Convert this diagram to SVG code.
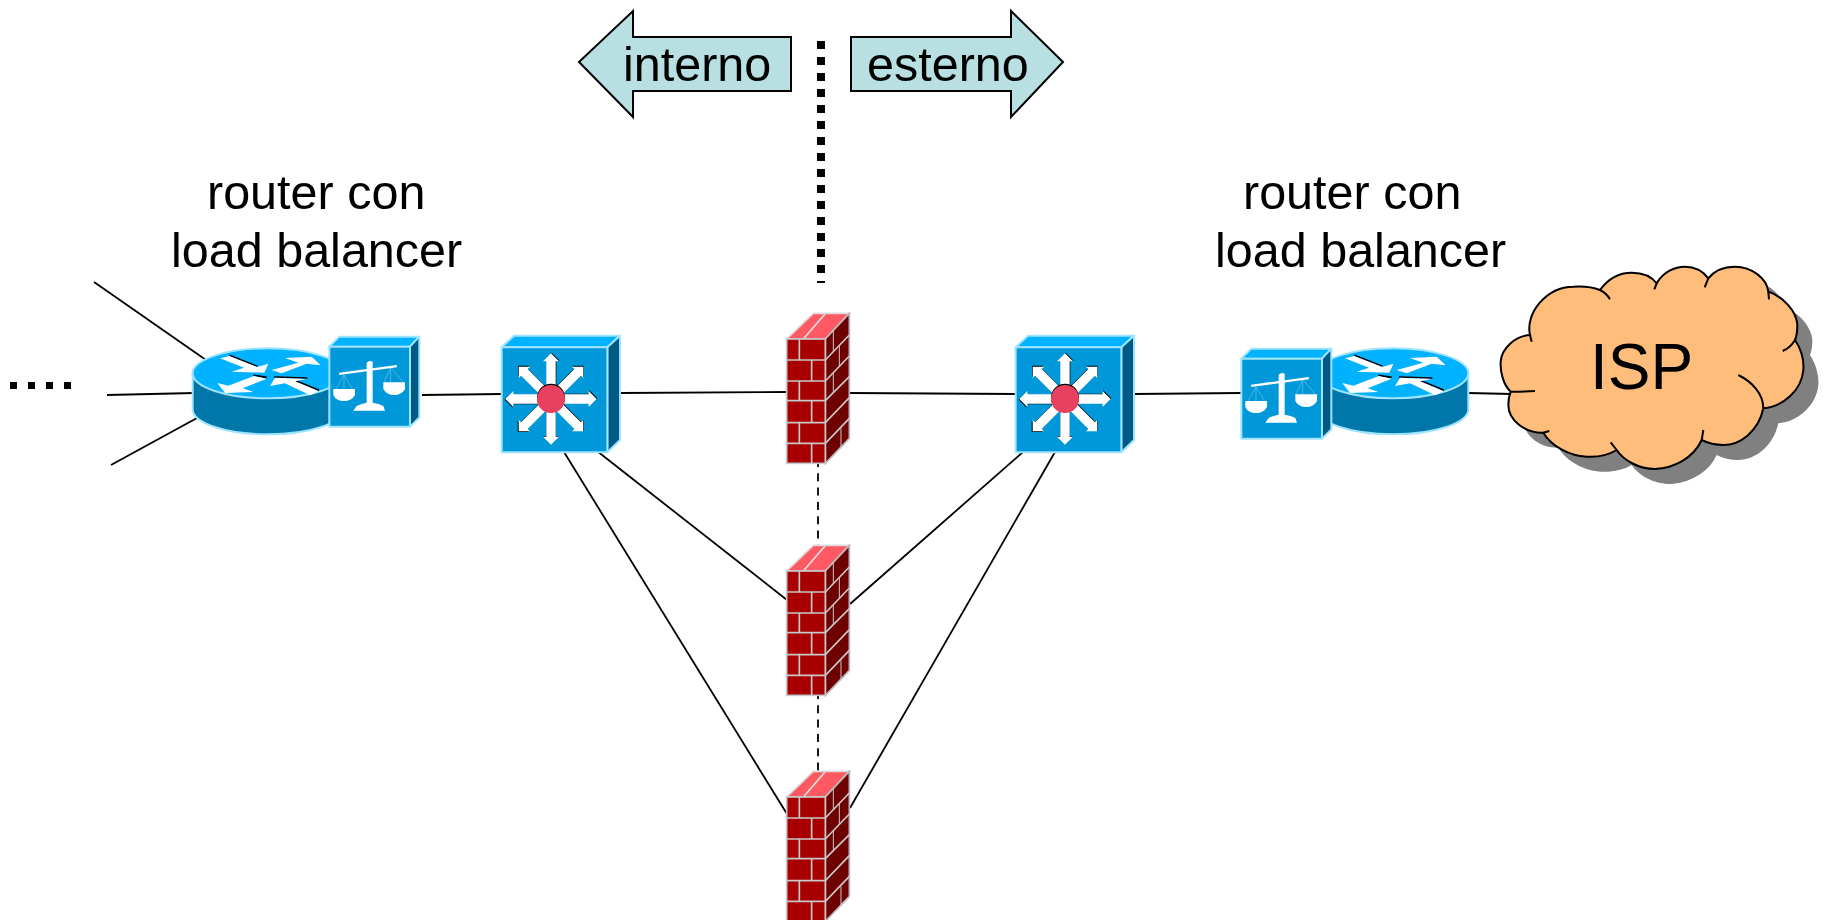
<svg xmlns="http://www.w3.org/2000/svg" xmlns:xlink="http://www.w3.org/1999/xlink" width="1824" height="920" viewBox="0 0 1824 920">
<style>
text{font-family:"Liberation Sans",Arial,sans-serif;fill:#000}
.l{font-size:48.500px}
.c{stroke:#000;stroke-width:1.8;fill:none}
.w{fill:#fff}
.k{fill:#000}
.e{stroke:#9fe4ff;stroke-width:6;stroke-linejoin:round}
.ft{fill:#00b2ff}.ff{fill:#0098d8}.fs{fill:#005a84}
.m{stroke:#c8c8c8;stroke-width:5;fill:none}
.arr{fill:#b8e0e2;stroke:#000;stroke-width:2}
</style>
<defs>
<g id="routerShape">
<path d="M68 160V268A226 75 0 0 0 520 268V160Z" fill="#0077a8" stroke="#9fe4ff" stroke-width="6"/>
<ellipse cx="294" cy="160" rx="226" ry="75" class="ft e"/>
<path d="M178 106L262 139M250 166L290 172M312 171L412 174M378 182L447 211" stroke="#000" stroke-width="5" fill="none"/>
<path class="w" d="M150 115L178 108L262 141L295 131L283 158L185 155L222 143Z"/>
<path class="w" d="M305 150L385 128L345 114L425 110L452 136L410 131L335 160Z"/>
<path class="w" d="M290 176L252 168L175 197L142 189L165 219L250 216L218 205Z"/>
<path class="w" d="M300 198L315 173L410 177L375 184L445 213L420 226L345 190Z"/>
</g>
<g id="lbShape">
<path class="ft e" d="M478 80L508 50H748L720 80Z"/>
<path class="fs e" d="M720 80L748 50V292L720 320Z"/>
<rect x="478" y="80" width="242" height="240" class="ff e"/>
<path d="M522 165L498 207M522 165L548 207M522 165V207M662 142L642 187M662 142L700 187M662 142V187" stroke="#6cc4ea" stroke-width="2" fill="none"/>
<path class="w" d="M507 158L680 135L681 142L508 165Z"/>
<path class="w" d="M590 128Q598 120 608 125V248Q628 250 640 258L645 272H550L560 258Q575 250 590 248Z"/>
<path class="w" d="M490 207H555V225Q545 243 522 243Q498 243 490 225Z"/>
<path class="w" d="M640 187H705V207Q695 225 672 225Q650 225 640 207Z"/>
</g>
<path id="ar" d="M-14 0V-113H-24L0 -137L24 -113H14V0Z"/>
<g id="switchShape">
<path class="ft e" d="M35 67L72 32H390L352 67Z"/>
<path class="fs e" d="M352 67L390 32V345L352 382Z"/>
<rect x="35" y="67" width="317" height="315" class="ff e"/>
<g transform="translate(183 222)">
<use href="#ar" class="k" transform="translate(2 -2)"/>
<use href="#ar" class="k" transform="translate(-2 -3) rotate(-45)"/>
<use href="#ar" class="k" transform="translate(1 -3) rotate(45)"/>
<use href="#ar" class="k" transform="translate(2 -2) rotate(90)"/>
<use href="#ar" class="k" transform="translate(-2 2) rotate(-90)"/>
<use href="#ar" class="k" transform="translate(-3 2) rotate(-135)"/>
<use href="#ar" class="k" transform="translate(2 -1) rotate(135)"/>
<use href="#ar" class="k" transform="translate(0 -2) rotate(180)"/>
<use href="#ar" class="w"/>
<use href="#ar" class="w" transform="rotate(45)"/>
<use href="#ar" class="w" transform="rotate(90)"/>
<use href="#ar" class="w" transform="rotate(135)"/>
<use href="#ar" class="w" transform="rotate(180)"/>
<use href="#ar" class="w" transform="rotate(225)"/>
<use href="#ar" class="w" transform="rotate(270)"/>
<use href="#ar" class="w" transform="rotate(315)"/>
<circle cy="-4" r="42" class="k"/>
<circle r="42" fill="#e8405f"/>
</g>
</g>
<g id="fwShape">
<path d="M50 117L130 40H238L166 117Z" fill="#ff5a64" stroke="#dcdcdc" stroke-width="5"/>
<path d="M100 117L165 42" stroke="#e0e0e0" stroke-width="5"/>
<path d="M166 117L238 40V415L166 490Z" fill="#6e0000" stroke="#b8b8b8" stroke-width="5"/>
<rect x="50" y="117" width="116" height="373" fill="#a80000" stroke="#c8c8c8" stroke-width="5"/>
<path class="m" d="M50 180H166M50 243H166M50 302H166M50 368H166M50 430H166M88 117V180M125 180V243M88 243V302M125 302V368M88 368V430M125 430V490"/>
<path class="m" d="M166 180L238 105M166 243L238 168M166 302L238 230M166 368L238 293M166 430L238 355"/>
<path d="M190 91V155M208 136V199M190 218V277M213 385V445" stroke="#c8c8c8" stroke-width="3" fill="none"/>
</g>
<path id="cl" d="M150 255C135 190 200 110 280 110C310 108 340 112 360 120C385 85 420 68 455 68C490 68 515 80 530 100C550 65 585 50 615 50C645 50 670 65 685 85C705 60 735 50 765 50C815 50 860 85 865 125C910 140 950 185 952 225C952 245 950 258 945 270C965 300 972 335 970 360C965 420 910 470 850 475C835 545 780 585 730 585C705 585 685 580 665 570C640 625 580 655 525 657C475 657 430 630 410 600C385 615 350 622 320 620C270 618 215 590 190 548C135 550 85 510 85 465C85 450 88 435 92 425C70 405 60 365 62 335C65 295 105 258 150 255Z"/>
</defs>
<g id="connectors">
<line class="c" x1="94" y1="282" x2="206" y2="360"/>
<line class="c" x1="107" y1="395" x2="195" y2="393"/>
<line class="c" x1="111" y1="465" x2="197" y2="418"/>
<line class="c" x1="422" y1="395" x2="502" y2="394"/>
<line class="c" x1="620" y1="393" x2="787" y2="392"/>
<line class="c" x1="849" y1="393" x2="1016" y2="394"/>
<line class="c" x1="1134" y1="394" x2="1241" y2="393"/>
<line class="c" x1="1468" y1="393" x2="1512" y2="394"/>
<line class="c" x1="564" y1="452" x2="787" y2="814"/>
<line class="c" x1="597" y1="451" x2="787" y2="600"/>
<line class="c" x1="1023" y1="452" x2="850" y2="604"/>
<line class="c" x1="1055" y1="452" x2="850" y2="808"/>
<line class="c" x1="818" y1="464" x2="818" y2="545" stroke-dasharray="8 6.3" stroke-dashoffset="5"/>
<line class="c" x1="818" y1="696" x2="818" y2="771" stroke-dasharray="8 6.3" stroke-dashoffset="5"/>
</g>
<line id="boundary" x1="821" y1="41" x2="821" y2="283" stroke="#000" stroke-width="8" stroke-dasharray="8 8"/>
<line id="more" x1="10" y1="385.500" x2="71" y2="385.500" stroke="#000" stroke-width="7" stroke-dasharray="7 11"/>
<g id="arrow-interno">
<path class="arr" d="M579 62L633 11V37H791V91H633V117Z"/>
<text class="l" x="623" y="81">interno</text>
</g>
<g id="arrow-esterno">
<path class="arr" d="M1063 62L1011 11V37H851V91H1011V117Z"/>
<text class="l" x="867" y="81">esterno</text>
</g>
<g id="label-left">
<text class="l" x="207" y="209">router con</text>
<text class="l" x="171" y="267">load balancer</text>
</g>
<g id="label-right">
<text class="l" x="1243" y="209">router con</text>
<text class="l" x="1215" y="267">load balancer</text>
</g>
<g id="router-left"><use href="#routerShape" transform="translate(170 320) scale(.33333)"/><use href="#lbShape" transform="translate(170 320) scale(.33333)"/></g>
<g id="router-right"><use href="#routerShape" transform="translate(1295 320) scale(.33333)"/><use href="#lbShape" transform="translate(1082 332) scale(.33333)"/></g>
<g id="switch-left"><use href="#switchShape" transform="translate(490 325) scale(.33333)"/></g>
<g id="switch-right"><use href="#switchShape" transform="translate(1004 325) scale(.33333)"/></g>
<g id="firewall-1"><use href="#fwShape" transform="translate(770 300) scale(.33333)"/></g>
<g id="firewall-2"><use href="#fwShape" transform="translate(770 532) scale(.33333)"/></g>
<g id="firewall-3"><use href="#fwShape" transform="translate(770 758) scale(.33333)"/></g>
<g id="isp">
<g transform="translate(1480 250) scale(.33333)">
<use href="#cl" fill="#808080" transform="translate(45 45)"/>
<use href="#cl" fill="#ffbd7c" stroke="#000" stroke-width="6"/>
<path d="M150 255L155 275M360 120Q380 130 390 148M530 100L523 118M685 85L674 112M865 125L867 148M945 270Q932 293 908 303M850 475C850 430 815 395 775 375M665 570L670 540M410 600L392 577M190 548L208 543M92 425Q125 425 165 423" fill="none" stroke="#000" stroke-width="6"/>
</g>
<text x="1590" y="389" font-size="64">ISP</text>
</g>
</svg>
